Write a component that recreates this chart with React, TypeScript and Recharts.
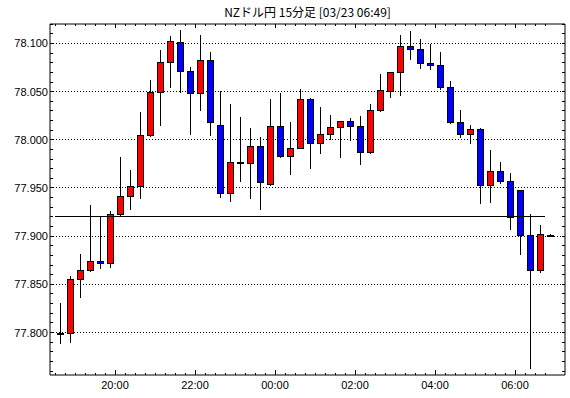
import React from 'react';
import { ComposedChart, Bar, XAxis, YAxis, ReferenceLine, CartesianGrid } from 'recharts';

const times = [
  '18:30', '18:45', '19:00', '19:15', '19:30', '19:45',
  '20:00', '20:15', '20:30', '20:45', '21:00', '21:15', '21:30', '21:45',
  '22:00', '22:15', '22:30', '22:45', '23:00', '23:15', '23:30', '23:45',
  '00:00', '00:15', '00:30', '00:45', '01:00', '01:15', '01:30', '01:45',
  '02:00', '02:15', '02:30', '02:45', '03:00', '03:15', '03:30', '03:45',
  '04:00', '04:15', '04:30', '04:45', '05:00', '05:15', '05:30', '05:45',
  '06:00', '06:15', '06:30', '06:45',
];

const opens = [
  77.798, 77.800, 77.856, 77.865, 77.874, 77.872, 77.923, 77.942, 77.952, 78.005,
  78.050, 78.081, 78.102, 78.071, 78.049, 78.083, 78.015, 77.945, 77.977, 77.976,
  77.994, 77.954, 78.014, 77.983, 77.992, 78.042, 77.997, 78.006, 78.013, 78.020,
  78.014, 77.987, 78.031, 78.051, 78.070, 78.097, 78.094, 78.080, 78.078, 78.055,
  78.019, 78.006, 78.011, 77.953, 77.968, 77.957, 77.948, 77.901, 77.865, 77.901,
];
const highs = [
  77.831, 77.859, 77.882, 77.932, 77.921, 77.926, 77.982, 77.969, 78.029, 78.062,
  78.093, 78.108, 78.114, 78.076, 78.109, 78.091, 78.051, 78.037, 78.024, 78.012,
  78.003, 78.042, 78.049, 78.018, 78.053, 78.043, 78.034, 78.026, 78.020, 78.023,
  78.025, 78.037, 78.068, 78.070, 78.109, 78.113, 78.105, 78.099, 78.091, 78.061,
  78.031, 78.015, 78.012, 77.989, 77.977, 77.966, 77.948, 77.923, 77.912, 77.902,
];
const lows = [
  77.789, 77.790, 77.837, 77.864, 77.867, 77.868, 77.922, 77.928, 77.940, 78.004,
  78.015, 78.055, 78.050, 78.006, 78.031, 78.005, 77.941, 77.937, 77.957, 77.940,
  77.928, 77.953, 77.982, 77.964, 77.991, 77.971, 77.986, 78.001, 77.982, 78.000,
  77.975, 77.986, 78.030, 78.044, 78.047, 78.084, 78.075, 78.073, 78.053, 78.017,
  78.003, 77.997, 77.934, 77.935, 77.955, 77.907, 77.881, 77.763, 77.863, 77.900,
];
const closes = [
  77.800, 77.856, 77.865, 77.874, 77.872, 77.923, 77.942, 77.952, 78.005, 78.050,
  78.081, 78.103, 78.071, 78.049, 78.083, 78.019, 77.945, 77.977, 77.977, 77.994,
  77.956, 78.014, 77.983, 77.992, 78.042, 77.997, 78.006, 78.013, 78.020, 78.014,
  77.987, 78.031, 78.052, 78.070, 78.097, 78.094, 78.080, 78.078, 78.055, 78.019,
  78.006, 78.011, 77.953, 77.968, 77.957, 77.920, 77.901, 77.865, 77.902, 77.901,
];

const yMajor = [77.80, 77.85, 77.90, 77.95, 78.00, 78.05, 78.10];
const yLabels = ['77.800', '77.850', '77.900', '77.950', '78.000', '78.050', '78.100'];
const yMinor = [
  77.76, 77.77, 77.78, 77.79, 77.80, 77.81, 77.82, 77.83, 77.84, 77.85, 77.86, 77.87,
  77.88, 77.89, 77.90, 77.91, 77.92, 77.93, 77.94, 77.95, 77.96, 77.97, 77.98, 77.99,
  78.00, 78.01, 78.02, 78.03, 78.04, 78.05, 78.06, 78.07, 78.08, 78.09, 78.10, 78.11, 78.12,
];
const xLabelTimes = ['20:00', '22:00', '00:00', '02:00', '04:00', '06:00'];
const prevLine = 77.92;
const title = 'NZドル円 15分足 [03/23 06:49]';

const data = times.map((time, i) => ({
  t: i,
  time,
  open: opens[i],
  high: highs[i],
  low: lows[i],
  close: closes[i],
}));

// slot boundaries (each tick sits at the start of a 15-minute slot)
const xTicks = times.map((_, i) => i - 0.5);
const labelAt = (v: number): string | null => {
  const idx = Math.round(v + 0.5);
  const tm = times[idx];
  return tm && xLabelTimes.includes(tm) ? tm : null;
};

const FONT = '"Liberation Sans", Arial, sans-serif';

const Candle = (props: any) => {
  const { x, y, width, height, payload } = props;
  if (x == null || y == null || !payload) return null;
  const top = Math.min(y, y + height);
  const bot = Math.max(y, y + height);
  const { open, close, high, low } = payload;
  const span = high - low;
  const toPx = (v: number) => (span === 0 ? top : top + ((high - v) / span) * (bot - top));
  const cx = Math.round(x + width / 2);
  const yo = toPx(open);
  const yc = toPx(close);
  const bt = Math.round(Math.min(yo, yc));
  const bb = Math.round(Math.max(yo, yc));
  const fill = close > open ? '#ff0000' : '#0000ff';
  return (
    <g shapeRendering="crispEdges">
      <line x1={cx + 0.5} x2={cx + 0.5} y1={Math.round(top)} y2={Math.round(bot) + 1} stroke="#000" strokeWidth={1} />
      <rect x={cx - 3 + 0.5} y={bt + 0.5} width={6} height={Math.max(bb - bt, 1)} fill={fill} stroke="#000" strokeWidth={1} />
    </g>
  );
};

const LeftTick = (props: any) => {
  const { x, y, payload } = props;
  const v = payload.value as number;
  const k = yMajor.findIndex((m) => Math.abs(m - v) < 1e-6);
  return (
    <g>
      <line x1={x} x2={x + 3} y1={y} y2={y} stroke="#000" shapeRendering="crispEdges" />
      {k >= 0 && (
        <text x={x - 2} y={y} dy={4} textAnchor="end" fontSize={11} fontFamily={FONT} fill="#000">
          {yLabels[k]}
        </text>
      )}
    </g>
  );
};

const RightTick = (props: any) => {
  const { x, y } = props;
  return <line x1={x} x2={x - 3} y1={y} y2={y} stroke="#000" shapeRendering="crispEdges" />;
};

const BottomTick = (props: any) => {
  const { x, y, payload } = props;
  const label = labelAt(payload.value);
  return (
    <g>
      <line x1={x} x2={x} y1={y} y2={y - (label ? 5 : 2)} stroke="#000" shapeRendering="crispEdges" />
      {label && (
        <text x={x} y={y + 14} textAnchor="middle" fontSize={11} fontFamily={FONT} fill="#000">
          {label}
        </text>
      )}
    </g>
  );
};

const TopTick = (props: any) => {
  const { x, y, payload } = props;
  const label = labelAt(payload.value);
  return <line x1={x} x2={x} y1={y} y2={y + (label ? 4 : 2)} stroke="#000" shapeRendering="crispEdges" />;
};

const yDomain: [number, number] = [77.7559, 78.1202];
const xDomain: [number, number] = [-1, 50.5];

export default function App() {
  return (
    <div style={{ position: 'absolute', left: 0, top: 0, width: 570, height: 398, background: '#fff' }}>
      <div
        style={{
          position: 'absolute',
          left: 0,
          top: 3,
          width: 615,
          textAlign: 'center',
          fontSize: 12,
          fontFamily: '"Noto Sans CJK JP", sans-serif',
          color: '#000',
          lineHeight: '17px',
          whiteSpace: 'nowrap',
        }}
      >
        {title}
      </div>
      <ComposedChart width={570} height={398} data={data} margin={{ top: 0, right: 0, bottom: 0, left: 0 }}>
        <CartesianGrid
          vertical={false}
          horizontalValues={yMajor}
          stroke="#000"
          strokeDasharray="1 2"
          shapeRendering="crispEdges"
        />
        <XAxis
          dataKey="t"
          type="number"
          domain={xDomain}
          allowDataOverflow
          ticks={xTicks}
          interval={0}
          height={23}
          tickSize={0}
          tickMargin={0}
          tick={<BottomTick />}
          tickLine={false}
          axisLine={{ stroke: '#000' }}
        />
        <XAxis
          xAxisId="top"
          orientation="top"
          dataKey="t"
          type="number"
          domain={xDomain}
          allowDataOverflow
          ticks={xTicks}
          interval={0}
          height={24}
          tickSize={0}
          tickMargin={0}
          tick={<TopTick />}
          tickLine={false}
          axisLine={{ stroke: '#000' }}
        />
        <YAxis
          type="number"
          domain={yDomain}
          allowDataOverflow
          ticks={yMinor}
          interval={0}
          width={50}
          tickSize={0}
          tickMargin={0}
          tick={<LeftTick />}
          tickLine={false}
          axisLine={{ stroke: '#000' }}
        />
        <YAxis
          yAxisId="right"
          orientation="right"
          type="number"
          domain={yDomain}
          allowDataOverflow
          ticks={yMinor}
          interval={0}
          width={5}
          tickSize={0}
          tickMargin={0}
          tick={<RightTick />}
          tickLine={false}
          axisLine={{ stroke: '#000' }}
        />
        <ReferenceLine
          segment={[
            { x: -0.5, y: prevLine },
            { x: 48.5, y: prevLine },
          ]}
          stroke="#000"
          strokeWidth={1}
          shapeRendering="crispEdges"
        />
        <Bar
          dataKey={(d: any) => [d.low, d.high]}
          barSize={7}
          shape={<Candle />}
          isAnimationActive={false}
        />
      </ComposedChart>
    </div>
  );
}
